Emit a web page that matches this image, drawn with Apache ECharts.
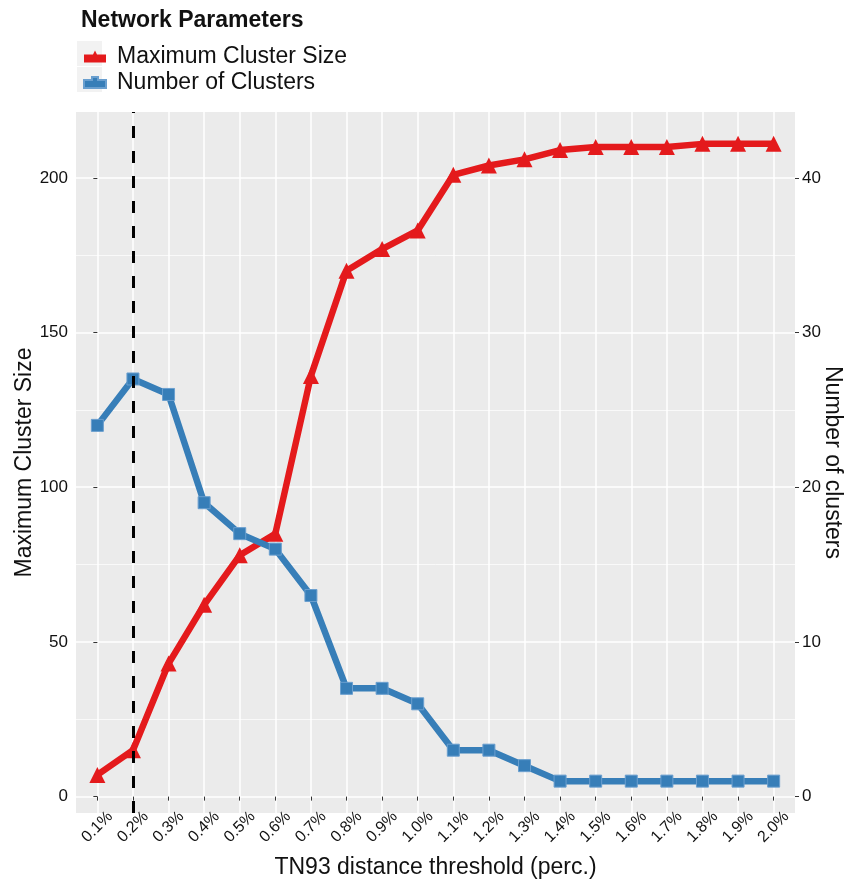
<!DOCTYPE html>
<html>
<head>
<meta charset="utf-8">
<script src="https://cdn.jsdelivr.net/npm/echarts@6/dist/echarts.min.js"></script>
<style>
  html, body { margin: 0; padding: 0; background: #ffffff; }
  #chart { width: 845px; height: 879px; }
</style>
</head>
<body>
<div id="chart"></div>
<script>
// TN93 distance thresholds (percent)
const thresholds = ['0.1%', '0.2%', '0.3%', '0.4%', '0.5%', '0.6%', '0.7%', '0.8%', '0.9%', '1.0%',
                    '1.1%', '1.2%', '1.3%', '1.4%', '1.5%', '1.6%', '1.7%', '1.8%', '1.9%', '2.0%'];
// size of the largest cluster at each threshold
const maxClusterSize = [7, 15, 43, 62, 78, 85, 136, 170, 177, 183,
                        201, 204, 206, 209, 210, 210, 210, 211, 211, 211];
// number of clusters at each threshold
const numClusters = [24, 27, 26, 19, 17, 16, 13, 7, 7, 6,
                     3, 3, 2, 1, 1, 1, 1, 1, 1, 1];
// chosen threshold
const chosenThreshold = '0.2%';
// axis tick values
const leftTicks = [0, 50, 100, 150, 200];
const rightTicks = [0, 10, 20, 30, 40];

const RED = '#E41A1C';
const BLUE = '#377EB8';
const FONT = 'Liberation Sans, Arial, Helvetica, sans-serif';
const TXT = '#111111';

const chart = echarts.init(document.getElementById('chart'), null, { renderer: 'canvas' });

// padded extent of the left scale; the right scale is the same divided by 5
const leftMin = -5.3, leftMax = 221.3;
const ratio = 5;

const idx = thresholds.map((_, i) => i);

chart.setOption({
  animation: false,
  backgroundColor: '#ffffff',
  title: {
    text: 'Network Parameters',
    left: 76, top: 4,
    textStyle: { fontFamily: FONT, fontWeight: 'bold', fontSize: 23, color: TXT }
  },
  // light key backgrounds of the legend
  graphic: [
    { type: 'rect', left: 77, top: 41, shape: { width: 25, height: 25 }, style: { fill: '#F2F2F2' }, silent: true, z: -1 },
    { type: 'rect', left: 77, top: 67, shape: { width: 25, height: 25 }, style: { fill: '#F2F2F2' }, silent: true, z: -1 }
  ],
  legend: {
    orient: 'vertical',
    left: 78, top: 40,
    itemWidth: 22, itemHeight: 14, itemGap: 3,
    textStyle: { fontFamily: FONT, fontSize: 23, color: TXT, padding: [0, 0, 0, 6] },
    data: [
      { name: 'Maximum Cluster Size', icon: 'path://M0,4 L9,4 L11,0 L13,4 L22,4 L22,12 L0,12 Z' },
      { name: 'Number of Clusters', icon: 'path://M0,4 L8,4 L8,1 L14,1 L14,4 L22,4 L22,12 L0,12 Z' }
    ]
  },
  grid: {
    left: 76, right: 50, top: 112, bottom: 66,
    outerBoundsMode: 'none',
    containLabel: false,
    show: true, backgroundColor: '#EBEBEB', borderWidth: 0
  },
  xAxis: {
    type: 'value',
    min: -0.6, max: thresholds.length - 1 + 0.6,
    splitNumber: 20,
    name: 'TN93 distance threshold (perc.)',
    nameLocation: 'middle', nameGap: 43,
    nameTextStyle: { fontFamily: FONT, fontSize: 23, color: TXT },
    axisLine: { show: false },
    axisTick: { show: true, customValues: idx, length: 4, lineStyle: { color: '#333333', width: 1 } },
    axisLabel: {
      customValues: idx,
      formatter: v => thresholds[Math.round(v)] || '',
      rotate: 45, align: 'center', verticalAlign: 'middle', margin: 14,
      fontFamily: FONT, fontSize: 16, color: TXT
    },
    splitLine: { show: true, lineStyle: { color: '#ffffff', width: 1.5 } }
  },
  yAxis: [
    {
      type: 'value', position: 'left',
      min: leftMin, max: leftMax, splitNumber: 5,
      name: 'Maximum Cluster Size',
      nameLocation: 'middle', nameGap: 40, nameRotate: 90,
      nameMoveOverlap: false,
      nameTextStyle: { fontFamily: FONT, fontSize: 23, color: TXT },
      axisLine: { show: false },
      axisTick: { show: true, customValues: leftTicks, length: 4, lineStyle: { color: '#333333', width: 1 } },
      axisLabel: { customValues: leftTicks, margin: 8, fontFamily: FONT, fontSize: 17, color: TXT },
      splitLine: { show: true, lineStyle: { color: '#ffffff', width: 1.5 } },
      minorTick: { show: false, splitNumber: 2 },
      minorSplitLine: { show: true, lineStyle: { color: '#ffffff', width: 0.7 } }
    },
    {
      type: 'value', position: 'right',
      min: leftMin / ratio, max: leftMax / ratio, splitNumber: 5,
      name: 'Number of clusters',
      nameLocation: 'middle', nameGap: 26, nameRotate: -90,
      nameMoveOverlap: false,
      nameTextStyle: { fontFamily: FONT, fontSize: 23, color: TXT },
      axisLine: { show: false },
      axisTick: { show: true, customValues: rightTicks, length: 4, lineStyle: { color: '#333333', width: 1 } },
      axisLabel: { customValues: rightTicks, margin: 7, fontFamily: FONT, fontSize: 17, color: TXT },
      splitLine: { show: false }
    }
  ],
  series: [
    {
      name: 'Maximum Cluster Size',
      type: 'line',
      yAxisIndex: 0,
      data: maxClusterSize.map((v, i) => [i, v]),
      symbol: 'triangle', symbolSize: 16,
      lineStyle: { color: RED, width: 6.5 },
      itemStyle: { color: RED },
      z: 3
    },
    {
      name: 'Number of Clusters',
      type: 'line',
      yAxisIndex: 1,
      data: numClusters.map((v, i) => [i, v]),
      symbol: 'rect', symbolSize: 12,
      lineStyle: { color: BLUE, width: 6.5 },
      itemStyle: { color: BLUE, borderColor: '#6A9FCF', borderWidth: 1 },
      z: 4,
      markLine: {
        silent: true, symbol: 'none', z: 10,
        label: { show: false },
        lineStyle: { color: '#000000', width: 3, type: [12, 13] },
        data: [{ xAxis: thresholds.indexOf(chosenThreshold) }]
      }
    }
  ]
});
</script>
</body>
</html>
